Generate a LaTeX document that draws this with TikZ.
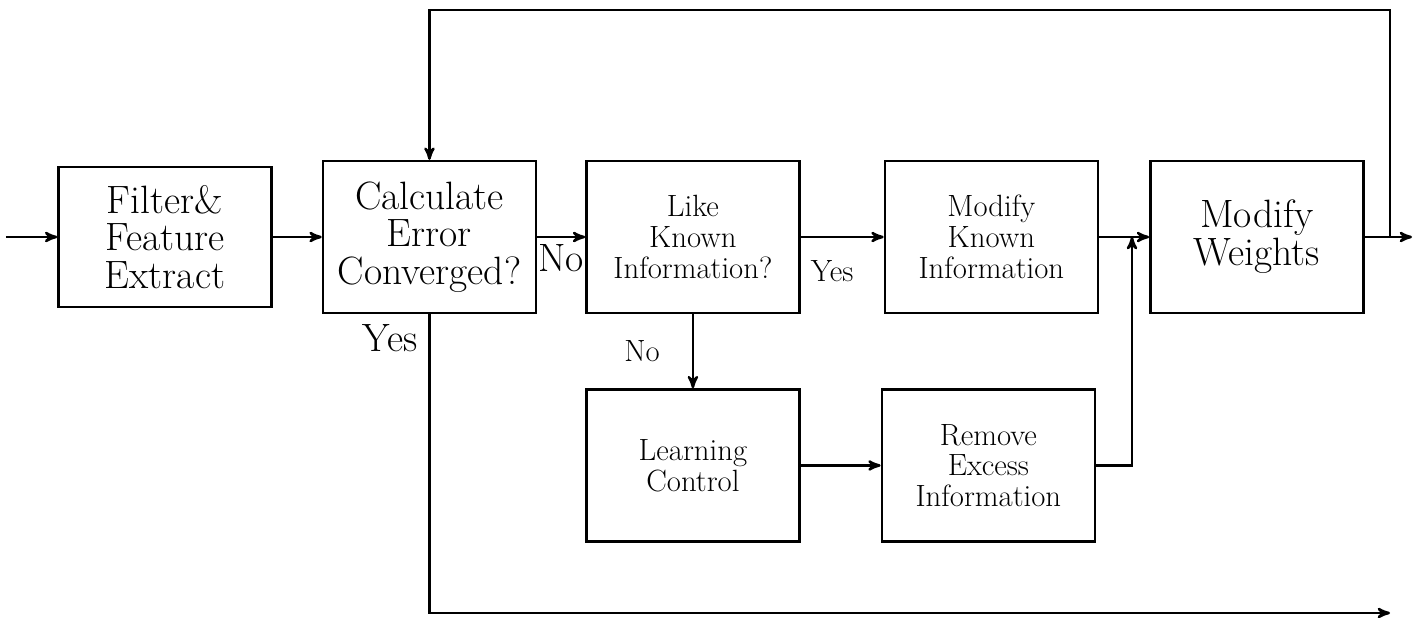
\documentclass[tikz,border=0pt]{standalone}
\usepackage{tikz}
\usetikzlibrary{positioning}
\usetikzlibrary{arrows}

\begin{document}
\begin{tikzpicture}[>=stealth',line width=1.4pt,
                    big text/.style={font=\fontsize{22.5}{21.5}\selectfont},
                    small text/.style={font=\fontsize{17.5}{17.5}\selectfont},
                    box/.style={rectangle,draw,align=center,inner sep=0pt,minimum width=4.26cm,minimum height=3.04cm},
                    big node/.style={box,big text},
                    small node/.style={box,small text}]
\useasboundingbox (0,0) rectangle (28.4,-12.34);

\node[big node,minimum height=2.8cm] (filter) at (3.3,-4.74) {Filter\&\\Feature\\Extract};
\node[big node] (calc) [right=0.98cm of filter] {Calculate\\Error\\Converged?};
\node[small node] (like) [right=0.96cm of calc] {Like\\Known\\Information?};
\node[small node] (known) [right=1.66cm of like] {Modify\\Known\\Information};
\node[big node] (weights) [right=1cm of known] {Modify\\Weights};
\node[small node] (learn) [below=1.48cm of like] {Learning\\Control};
\node[small node] (remove) [right=1.6cm of learn] {Remove\\Excess\\Information};

\coordinate (in) at (0.12,-4.74);
\coordinate (out) at (28.24,-4.74);
\coordinate (fb) at (27.8,-4.74);
\coordinate (top) at (27.8,-0.2);
\coordinate (merge) at (22.64,-4.74);
\coordinate (done) at (27.8,-12.26);

\path[->]
  (in) edge (filter)
  (filter) edge (calc)
  (calc) edge node[below,big text] (no1) {No} (like)
  (like) edge node[pos=0.38,below=0.32cm,small text] (yes2) {Yes} (known)
         edge node[left=0.52cm,small text] (no2) {No} (learn)
  (known) edge (weights)
  (weights) edge (out)
  (learn) edge (remove);

\draw[->] (fb) -- (top) -| (calc.north);
\draw[->] (remove.east) -| (merge);
\draw[->] (calc.south) |- node[pos=0.04,left=0.1cm,big text] (yes1) {Yes} (done);
\end{tikzpicture}
\end{document}
